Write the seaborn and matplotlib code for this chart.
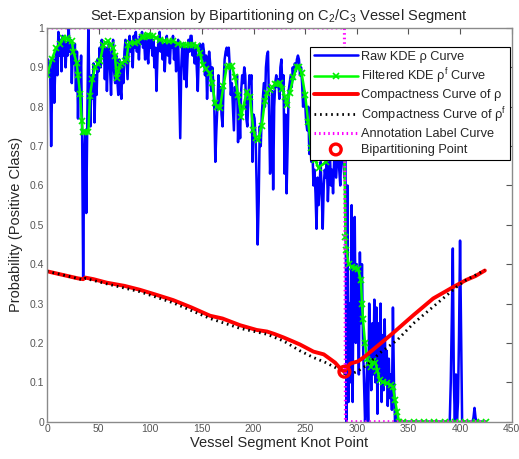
import numpy as np
import pandas as pd
import matplotlib
matplotlib.use("Agg")
import matplotlib.pyplot as plt
import seaborn as sns

# Raw KDE rho curve, one value per knot point 0..425
raw_kde = [
    0.90, 0.92, 0.88, 0.91, 0.70, 0.87, 0.92, 0.81, 0.90, 0.95,
    0.88, 0.99, 0.93, 0.97, 0.89, 0.98, 0.93, 0.97, 0.90, 0.96,
    0.93, 1.00, 0.94, 0.97, 0.86, 0.95, 0.91, 0.96, 0.84, 0.94,
    0.77, 0.91, 0.85, 0.93, 0.73, 0.365, 0.67, 0.74, 0.53, 0.76,
    1.00, 0.85, 0.75, 0.88, 0.82, 0.91, 0.76, 0.88, 0.83, 0.92,
    0.89, 0.95, 0.90, 0.97, 0.93, 0.96, 0.87, 0.95, 0.84, 0.93,
    0.96, 0.90, 0.83, 0.94, 0.97, 0.89, 0.86, 0.93, 0.87, 0.83,
    0.92, 0.85, 0.82, 0.91, 0.86, 0.94, 0.97, 0.92, 0.87, 0.95,
    0.98, 0.94, 0.96, 0.90, 0.98, 0.95, 0.99, 0.94, 0.97, 0.92,
    0.98, 0.96, 0.99, 0.95, 0.97, 0.92, 0.98, 0.94, 0.91, 0.97,
    0.95, 0.98, 0.93, 0.97, 0.90, 0.95, 0.84, 0.93, 0.97, 0.99,
    0.94, 0.97, 0.92, 0.96, 0.89, 0.95, 0.98, 0.93, 0.96, 0.91,
    0.97, 0.95, 0.98, 0.92, 0.96, 0.89, 0.94, 0.97, 0.84, 0.72,
    0.90, 0.96, 0.93, 0.87, 0.95, 0.85, 0.92, 0.97, 0.94, 0.98,
    0.98, 0.93, 0.96, 0.91, 0.95, 0.90, 0.84, 0.93, 0.96, 0.95,
    0.92, 0.96, 0.94, 0.88, 0.93, 0.82, 0.90, 0.94, 0.91, 0.84,
    0.90, 0.86, 0.80, 0.66, 0.74, 0.80, 0.88, 0.80, 0.85, 0.78,
    0.75, 0.86, 0.92, 0.94, 0.95, 0.93, 0.95, 0.90, 0.83, 0.86,
    0.80, 0.74, 0.85, 0.82, 0.88, 0.71, 0.80, 0.72, 0.84, 0.88,
    0.86, 0.90, 0.88, 0.77, 0.75, 0.82, 0.88, 0.86, 0.88, 0.66,
    0.78, 0.77, 0.72, 0.60, 0.45, 0.56, 0.75, 0.70, 0.78, 0.82,
    0.86, 0.80, 0.90, 0.93, 0.94, 0.80, 0.63, 0.69, 0.84, 0.59,
    0.80, 0.86, 0.88, 0.85, 0.87, 0.82, 0.90, 0.92, 0.84, 0.88,
    0.63, 0.78, 0.58, 0.70, 0.84, 0.86, 0.88, 0.85, 0.90, 0.87,
    0.91, 0.89, 0.92, 0.93, 0.92, 0.88, 0.90, 0.86, 0.80, 0.84,
    0.81, 0.76, 0.74, 0.80, 0.68, 0.72, 0.66, 0.70, 0.60, 0.64,
    0.58, 0.49, 0.62, 0.55, 0.60, 0.66, 0.58, 0.49, 0.60, 0.64,
    0.62, 0.66, 0.56, 0.63, 0.68, 0.60, 0.64, 0.58, 0.66, 0.70,
    0.62, 0.67, 0.72, 0.64, 0.60, 0.68, 0.74, 0.66, 0.62, 0.72,
    0.00, 0.60, 0.05, 0.30, 0.10, 0.55, 0.05, 0.45, 0.52, 0.20,
    0.40, 0.30, 0.12, 0.43, 0.25, 0.40, 0.20, 0.10, 0.00, 0.05,
    0.15, 0.00, 0.30, 0.20, 0.08, 0.25, 0.12, 0.31, 0.10, 0.29,
    0.02, 0.25, 0.12, 0.30, 0.05, 0.22, 0.08, 0.26, 0.10, 0.18,
    0.04, 0.16, 0.06, 0.12, 0.03, 0.29, 0.10, 0.00, 0.02, 0.00,
    0, 0, 0, 0, 0, 0, 0, 0, 0, 0,
    0, 0, 0, 0, 0, 0, 0, 0, 0, 0,
    0, 0, 0, 0, 0, 0, 0, 0, 0, 0,
    0, 0, 0, 0, 0, 0, 0, 0, 0, 0,
    0, 0, 0, 0, 0, 0, 0, 0, 0, 0,
    0.00, 0.10, 0.26, 0.44, 0.10, 0.00, 0.12, 0.00, 0.05, 0.22,
    0.46, 0.23, 0, 0, 0, 0, 0, 0, 0, 0,
    0, 0, 0, 0.01, 0.035, 0.01, 0, 0, 0, 0,
    0, 0, 0, 0, 0, 0,
]
knots = list(range(len(raw_kde)))

# Filtered KDE rho^f curve (knot, value)
filt_x = [0, 4.5, 9, 12.6, 15.8, 19, 20.7, 24, 25.5, 28.7, 30, 32, 33.6, 34.5, 37, 40,
          41.6, 44, 46.5, 49, 51.3, 54.6, 57, 59.4, 62, 64.3, 65.8, 67.4, 69, 70.7, 73, 75.5,
          77, 78.8, 80.5, 85, 88, 91.7, 94, 96.5, 98, 100, 103, 106, 109.5, 114, 118, 122.4,
          127, 132, 135, 138, 141, 145, 148, 151, 154, 157.8, 160, 162.7, 165, 167.5, 170.8, 174,
          176, 178.9, 182, 185, 188, 190, 193.5, 196.6, 199.8, 202, 204.6, 208, 211, 213,
          216, 218, 220.8, 223, 225.6, 228, 230.5, 232, 235, 238.6, 241.8, 244, 246.6, 250,
          253, 256, 259.5, 263, 270, 278, 285, 288, 289, 290, 292, 295, 298, 301,
          304, 305, 306, 308, 310, 312, 314, 316, 318, 320, 322, 325, 329, 333,
          335, 337, 339, 341, 345, 355, 365, 375, 385, 395, 405, 415, 425]
filt_y = [0.88, 0.92, 0.95, 0.96, 0.975, 0.974, 0.97, 0.966, 0.94, 0.912, 0.88, 0.833, 0.765, 0.735, 0.735, 0.735,
          0.828, 0.87, 0.9, 0.908, 0.915, 0.958, 0.963, 0.966, 0.958, 0.949, 0.93, 0.873, 0.89, 0.907, 0.912, 0.915,
          0.92, 0.957, 0.962, 0.963, 0.965, 0.976, 0.978, 0.979, 0.981, 0.98, 0.979, 0.975, 0.97, 0.968, 0.966, 0.966,
          0.96, 0.957, 0.957, 0.957, 0.956, 0.955, 0.936, 0.906, 0.895, 0.885, 0.86, 0.809, 0.80, 0.796, 0.852, 0.9,
          0.904, 0.904, 0.875, 0.83, 0.775, 0.80, 0.838, 0.825, 0.741, 0.72, 0.715, 0.752, 0.815, 0.835,
          0.843, 0.85, 0.857, 0.858, 0.86, 0.845, 0.826, 0.805, 0.834, 0.875, 0.902, 0.9, 0.885, 0.83,
          0.76, 0.695, 0.665, 0.645, 0.66, 0.70, 0.72, 0.68, 0.47, 0.436, 0.40, 0.394, 0.39, 0.389,
          0.36, 0.30, 0.26, 0.20, 0.16, 0.15, 0.14, 0.155, 0.15, 0.13, 0.106, 0.10, 0.098, 0.092,
          0.089, 0.055, 0.025, 0.0, 0, 0, 0, 0, 0, 0, 0, 0, 0]

# Compactness curve of rho
comp_x = [0, 10, 20, 30, 35, 37, 45, 58, 75, 90, 105, 122, 140, 158, 165, 170, 187, 203, 213,
          220, 229, 238, 245, 258, 268, 279, 285, 288, 291, 294, 301, 308, 319, 335, 355, 374,
          394, 406, 415, 424]
comp_y = [0.382, 0.376, 0.370, 0.364, 0.362, 0.366, 0.362, 0.353, 0.345, 0.335, 0.323, 0.309, 0.29,
          0.269, 0.265, 0.262, 0.245, 0.233, 0.229, 0.223, 0.214, 0.204, 0.196, 0.178, 0.171, 0.15,
          0.132, 0.127, 0.14, 0.148, 0.153, 0.166, 0.19, 0.225, 0.271, 0.313, 0.343, 0.36, 0.37, 0.384]

# Compactness curve of rho^f
compf_x = [0, 20, 35, 37, 58, 90, 122, 158, 187, 213, 229, 245, 258, 270, 281, 290, 295, 300,
           310, 322, 339, 355, 374, 397, 406, 424]
compf_y = [0.382, 0.37, 0.36, 0.364, 0.35, 0.33, 0.302, 0.262, 0.237, 0.222, 0.205, 0.18, 0.163,
           0.15, 0.135, 0.119, 0.122, 0.127, 0.144, 0.174, 0.207, 0.25, 0.292, 0.343, 0.36, 0.385]

# Annotation label curve
label_x = [0, 288, 289, 425]
label_y = [1, 1, 0, 0]

# Bipartitioning point
bip_x = [288]
bip_y = [0.127]

sns.set_style("white")
plt.rcParams["font.family"] = ["Liberation Sans", "DejaVu Sans"]
plt.rcParams["mathtext.fontset"] = "custom"
plt.rcParams["mathtext.rm"] = "Liberation Sans"
plt.rcParams["mathtext.it"] = "Liberation Sans"

fig = plt.figure(figsize=(5.19, 4.59), dpi=100)
ax = fig.add_axes([0.0906, 0.0813, 0.8953, 0.8577])

sns.lineplot(x=knots, y=raw_kde, color="#0000ff", linewidth=1.8, estimator=None, sort=False,
             ax=ax, label="Raw KDE ρ Curve")
sns.lineplot(x=filt_x, y=filt_y, color="#00ff00", linewidth=1.8, marker="x", markersize=4,
             markeredgewidth=1.2, markeredgecolor="#00ee00", estimator=None, sort=False, ax=ax,
             label="Filtered KDE ρ$^\\mathregular{f}$ Curve")
sns.lineplot(x=comp_x, y=comp_y, color="#ff0000", linewidth=2.8, estimator=None, sort=False,
             ax=ax, label="Compactness Curve of ρ")
sns.lineplot(x=compf_x, y=compf_y, color="black", linewidth=2.0, linestyle=(0, (0.6, 1.4)),
             estimator=None, sort=False, ax=ax, label="Compactness Curve of ρ$^\\mathregular{f}$")
sns.lineplot(x=label_x, y=label_y, color="#ff00ff", linewidth=2.2, linestyle=(0, (0.5, 1.0)),
             estimator=None, sort=False, ax=ax, label="Annotation Label Curve")
sns.scatterplot(x=bip_x, y=bip_y, marker="o", s=60, facecolors="none", edgecolors="#ff0000",
                linewidths=2.4, ax=ax, label="Bipartitioning Point", zorder=5)

ax.set_xlim(0, 450)
ax.set_ylim(0, 1)
ax.set_xticks(np.arange(0, 451, 50))
ax.set_yticks(np.arange(0, 1.01, 0.1))
ax.set_yticklabels(["0", "0.1", "0.2", "0.3", "0.4", "0.5", "0.6", "0.7", "0.8", "0.9", "1"])
ax.tick_params(direction="in", length=4, width=0.8, top=True, right=True,
               labelsize=7.5, colors="#555555", pad=2)
for sp in ax.spines.values():
    sp.set_color("#8a8a8a")
    sp.set_linewidth(1.0)

ax.set_title("Set-Expansion by Bipartitioning on C$_2$/C$_3$ Vessel Segment", fontsize=10.5, pad=6)
ax.set_xlabel("Vessel Segment Knot Point", fontsize=10.5, labelpad=1)
ax.set_ylabel("Probability (Positive Class)", fontsize=10.5, labelpad=5)

leg = ax.legend(loc="upper right", bbox_to_anchor=(0.997, 0.952), borderaxespad=0,
                fontsize=9.2, fancybox=False, framealpha=1, edgecolor="black",
                handlelength=3.4, handletextpad=0.3, labelspacing=0.28, borderpad=0.3)
leg.get_frame().set_linewidth(0.8)

fig.savefig("out.png", dpi=100)
